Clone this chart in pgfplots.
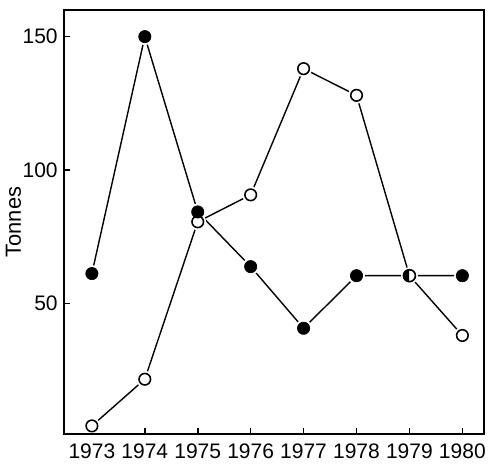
\documentclass[border=0pt]{standalone}
\usepackage{fontspec}
\setmainfont{Liberation Sans}
\usepackage{pgfplots}
\pgfplotsset{compat=1.18}
\usetikzlibrary{plotmarks}

\pgfplotstableread{
year filled open
1973 61.2 4.1
1974 150 21.6
1975 84.3 80.6
1976 63.8 90.7
1977 40.7 138
1978 60.4 128
1979 60.4 60.4
1980 60.4 38
}\catch

\begin{document}
\begin{tikzpicture}
\begin{axis}[
    scale only axis,
    width=8.44cm, height=8.52cm,
    xmin=1972.47, xmax=1980.41,
    ymin=1, ymax=160,
    axis line style={line width=1.1pt},
    xtick={1973,...,1980},
    ytick={50,100,150},
    xticklabel style={/pgf/number format/1000 sep=},
    tick align=inside,
    xtick pos=bottom, ytick pos=left,
    major tick length=0.13cm,
    tick style={black, line width=0.9pt},
    /pgf/number format/assume math mode=true,
    tick label style={font=\fontsize{12}{14}\selectfont},
    xticklabel style={yshift=-2pt},
    ylabel={Tonnes},
    ylabel style={font=\fontsize{12.5}{14}\selectfont, yshift=-6pt},
    clip=false,
]
% connecting lines
\addplot[black, line width=0.8pt] table[x=year, y=open] {\catch};
\addplot[black, line width=0.8pt] table[x=year, y=filled] {\catch};
% white halos so lines stop short of the markers
\addplot[only marks, mark=*, mark size=4.6pt, white, mark options={draw=white, fill=white}] table[x=year, y=open] {\catch};
\addplot[only marks, mark=*, mark size=4.6pt, white, mark options={draw=white, fill=white}] table[x=year, y=filled] {\catch};
% markers
\addplot[only marks, mark=*, mark size=3.3pt, mark options={draw=black, fill=white, line width=0.9pt}] table[x=year, y=open] {\catch};
\addplot[only marks, mark=*, mark size=3.5pt, mark options={draw=black, fill=black}] coordinates {
    (1973,61.2) (1974,150) (1975,84.3) (1976,63.8) (1977,40.7) (1978,60.4) (1980,60.4)
};
% 1979: both series coincide, half-filled marker
\addplot[only marks, mark=halfcircle*, mark size=3.4pt, mark options={draw=black, fill=black, line width=0.9pt, rotate=90}] coordinates {(1979,60.4)};
\coordinate (sw) at (rel axis cs:0,0);
\coordinate (ne) at (rel axis cs:1,1);
\end{axis}
\draw[line width=1.1pt] (sw) rectangle (ne);
\path ([shift={(-1.24cm,-0.66cm)}]sw) rectangle ([shift={(0.32cm,0.2cm)}]ne);
\end{tikzpicture}
\end{document}
